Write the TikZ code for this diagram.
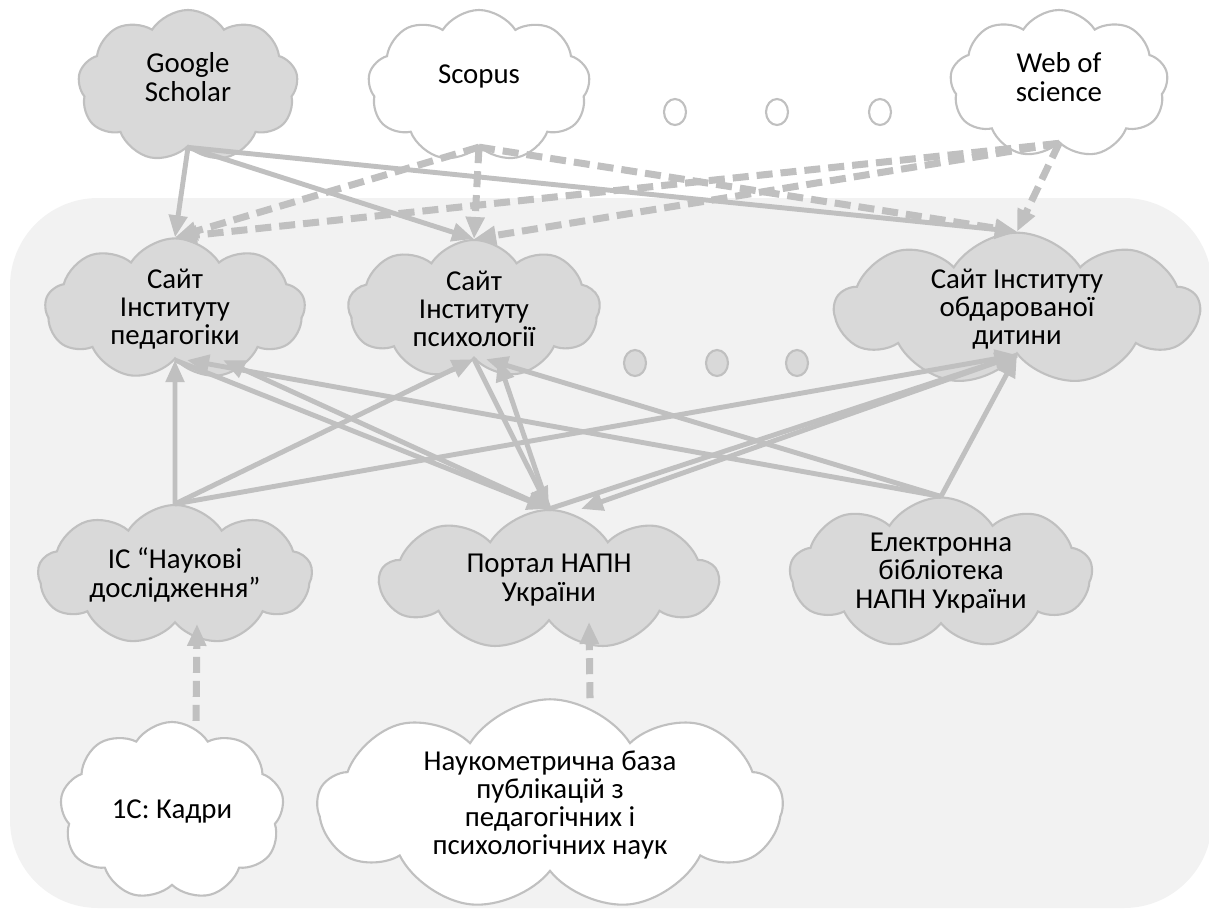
\documentclass[tikz,border=0pt]{standalone}
\usepackage{fontspec}
\setmainfont{Carlito}
\usepackage{tikz}
\usetikzlibrary{shapes.symbols, shapes.geometric, arrows.meta}
\usetikzlibrary{backgrounds}
\definecolor{linegray}{RGB}{192,192,192}
\definecolor{cloudgray}{RGB}{217,217,217}
\definecolor{backgray}{RGB}{242,242,242}
\def\cfont{\fontsize{20.5}{20}\selectfont}
\tikzstyle{site}=[cloud, cloud puffs=9, cloud puff arc=115, cloud ignores aspect, draw=linegray, line width=1.5pt,
                  fill=cloudgray, align=center, inner sep=0pt, font=\cfont]
\tikzstyle{extern}=[site, fill=white]
\tikzstyle{dotmark}=[ellipse, draw=linegray, line width=1.5pt, fill=white, minimum width=0.55cm, minimum height=0.65cm, inner sep=0pt]
\tikzstyle{link}=[draw=linegray, line width=3.5pt, -{Triangle[length=0.55cm,width=0.45cm]}]
\tikzstyle{feed}=[link, line width=5pt, dash pattern=on 0.4cm off 0.2cm]

\begin{document}
\begin{tikzpicture}[x=0.025cm, y=-0.025cm]

  \useasboundingbox (0,0) rectangle (1209,910);
  \fill[backgray, rounded corners=2.2cm] (10,198) rectangle (1212,908);

  % outer databases
  \node[site,   minimum width=5.5cm,  minimum height=3.8cm] (gs) at (188,86)  {Google\\Scholar\\[-0.25cm]};
  \node[extern, minimum width=5.55cm, minimum height=3.8cm] (sc) at (479,86)  {Scopus\\[-0.1cm]};
  \node[extern, minimum width=5.45cm, minimum height=3.7cm] (ws) at (1059,84) {Web of\\science\\[-0.35cm]};
  \foreach \x/\i in {675/1,777/2,880/3}{
    \node[dotmark] (o\i) at (\x,112) {};
  }

  % institute sites
  \node[site, minimum width=6.5cm,  minimum height=3.45cm] (ped) at (175,309)  {Сайт\\Інституту\\педагогіки};
  \node[site, minimum width=6.3cm,  minimum height=3.45cm] (psy) at (474,309)  {Сайт\\Інституту\\психології};
  \node[site, minimum width=9.1cm,  minimum height=3.45cm] (gif) at (1017,309) {Сайт Інституту\\обдарованої\\дитини};
  \foreach \x/\i in {635/1,717/2,797/3}{
    \node[dotmark, fill=cloudgray] (d\i) at (\x,363) {};
  }

  % NAPN systems
  \node[site, minimum width=6.85cm, minimum height=3.5cm] (ic)   at (175,575) {ІС “Наукові\\дослідження”};
  \node[site, minimum width=8.45cm, minimum height=3.5cm] (port) at (549,580) {Портал НАПН\\України};
  \node[site, minimum width=7.55cm, minimum height=3.5cm] (lib)  at (941,573) {Електронна\\бібліотека\\НАПН України};

  % sources
  \node[extern, minimum width=5.6cm,  minimum height=4.45cm] (kad)  at (172,811) {1С: Кадри};
  \node[extern, minimum width=11.6cm, minimum height=4.35cm] (nauk) at (550,805) {Наукометрична база\\публікацій з\\педагогічних і\\психологічних наук};

  \foreach \t in {ped,psy,gif}{
    \draw[link] (gs.south) -- (\t.north);
    \draw[feed] (sc.south) -- (\t.north);
    \draw[feed] (ws.south) -- (\t.north);
  }

  \foreach \t in {ped,psy,gif}{
    \draw[link] (ic.north) -- (\t.south);
  }
  \draw[link] (ped.south) -- (port.north);
  \draw[link] (port.north) -- ([xshift=1.2cm]ped.south);
  \draw[link] (lib.north) -- ([xshift=0.3cm]ped.south);
  \draw[link] (psy.south) -- (port.north);
  \draw[link] (port.north) -- ([xshift=0.6cm]psy.south);
  \draw[link] (lib.north) -- ([xshift=0.3cm]psy.south);
  \draw[link] (port.north) -- (gif.south);
  \draw[link] (gif.south) -- ([xshift=0.8cm]port.north);
  \draw[link] (lib.north) -- (gif.south);

  \draw[feed] ([xshift=0.6cm]kad.north) -- ([xshift=0.55cm]ic.south);
  \draw[feed] ([xshift=1cm]nauk.north) -- ([xshift=1cm]port.south);

\end{tikzpicture}
\end{document}
